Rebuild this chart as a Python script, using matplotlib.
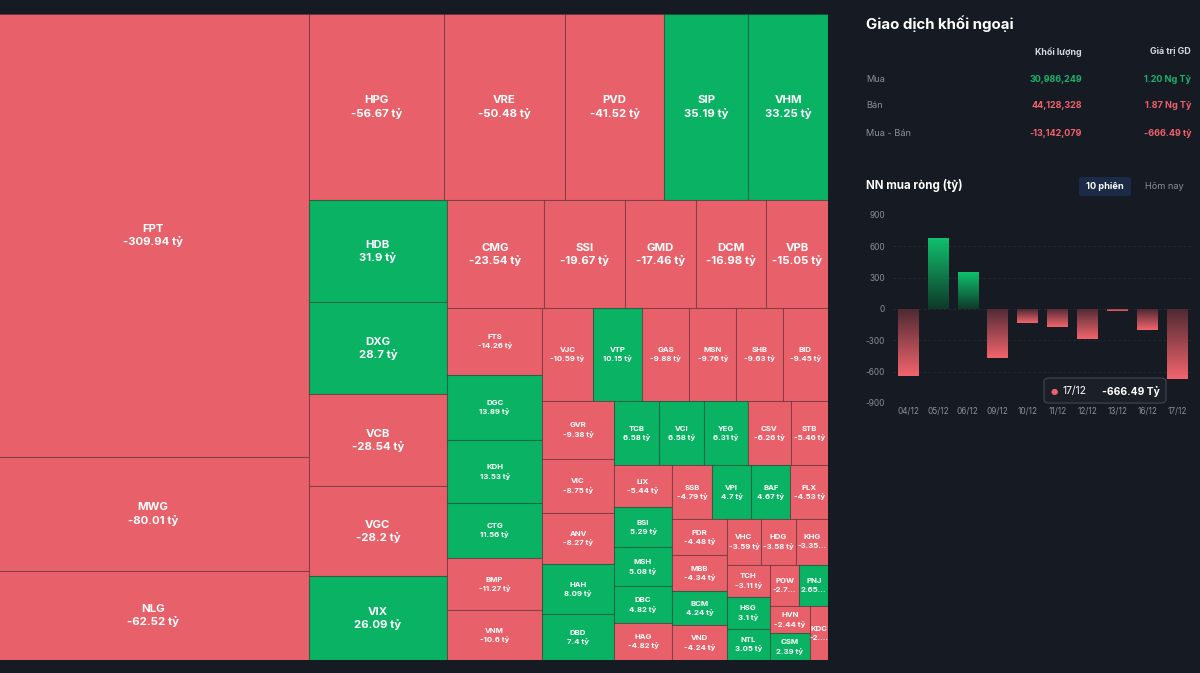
import matplotlib
matplotlib.use("Agg")
import matplotlib.pyplot as plt
from matplotlib.patches import Rectangle, FancyBboxPatch
import numpy as np

# ---------------- data ----------------
tickers = ["FPT", "MWG", "NLG", "HPG", "VRE", "PVD", "SIP", "VHM",
           "HDB", "DXG", "VCB", "VGC", "VIX",
           "CMG", "SSI", "GMD", "DCM", "VPB",
           "FTS", "DGC", "KDH", "CTG", "BMP", "VNM",
           "VJC", "VTP", "GAS", "MSN", "SHB", "BID",
           "GVR", "VIC", "ANV", "HAH", "DBD",
           "TCB", "VCI", "YEG", "CSV", "STB",
           "LIX", "BSI", "MSH", "DBC", "HAG",
           "SSB", "VPI", "BAF", "PLX",
           "PDR", "MBB", "BCM", "VND",
           "VHC", "HDG", "KHG",
           "TCH", "HSG", "NTL",
           "POW", "PNJ", "HVN", "CSM", "KDC"]
net_values = [-309.94, -80.01, -62.52, -56.67, -50.48, -41.52, 35.19, 33.25,
              31.9, 28.7, -28.54, -28.2, 26.09,
              -23.54, -19.67, -17.46, -16.98, -15.05,
              -14.26, 13.89, 13.53, 11.56, -11.27, -10.6,
              -10.59, 10.15, -9.88, -9.76, -9.63, -9.45,
              -9.38, -8.75, -8.27, 8.09, 7.4,
              6.58, 6.58, 6.31, -6.26, -5.46,
              -5.44, 5.29, 5.08, 4.82, -4.82,
              -4.79, 4.7, 4.67, -4.53,
              -4.48, -4.34, 4.24, -4.24,
              -3.59, -3.58, -3.35,
              -3.11, 3.1, 3.05,
              -2.75, 2.65, -2.44, 2.39, -2.2]

sessions = ["04/12", "05/12", "06/12", "09/12", "10/12", "11/12", "12/12", "13/12", "16/12", "17/12"]
session_net = [-640, 680, 350, -470, -130, -175, -290, -20, -200, -666.49]
y_ticks = [900, 600, 300, 0, -300, -600, -900]

table_rows = ["Mua", "Bán", "Mua - Bán"]
table_volume = ["30,986,249", "44,128,328", "-13,142,079"]
table_value = ["1.20 Ng Tỷ", "1.87 Ng Tỷ", "-666.49 tỷ"]

# ---------------- style ----------------
BG = "#161a23"
RED = "#e8616a"
GREEN = "#0ab263"
TXT_RED = "#f0616b"
TXT_GREEN = "#19b46b"
GREY = "#8a8f99"
FONT = ["Inter", "DejaVu Sans"]
plt.rcParams["font.family"] = FONT

W, H = 1200, 673
fig = plt.figure(figsize=(W / 100, H / 100), dpi=100, facecolor=BG)


def fx(x):
    return x / W


def fy(y):
    return 1 - y / H


# ---------------- squarified treemap (d3 algorithm) ----------------
PHI = (1 + 5 ** 0.5) / 2


def squarify(values, x0, y0, x1, y1, ratio=PHI):
    n = len(values)
    rects = [None] * n
    i0 = i1 = 0
    value = float(sum(values))
    while i0 < n:
        dx, dy = x1 - x0, y1 - y0
        sumv = values[i1]
        i1 += 1
        minv = maxv = sumv
        alpha = max(dy / dx, dx / dy) / (value * ratio)
        beta = sumv * sumv * alpha
        minr = max(maxv / beta, beta / minv)
        while i1 < n:
            nv = values[i1]
            sumv += nv
            minv = min(minv, nv)
            maxv = max(maxv, nv)
            beta = sumv * sumv * alpha
            newr = max(maxv / beta, beta / minv)
            if newr > minr:
                sumv -= nv
                break
            minr = newr
            i1 += 1
        if dx < dy:
            ny = y0 + dy * sumv / value
            xx = x0
            for i in range(i0, i1):
                w = (x1 - x0) * values[i] / sumv
                rects[i] = (xx, y0, w, ny - y0)
                xx += w
            y0 = ny
        else:
            nx = x0 + dx * sumv / value
            yy = y0
            for i in range(i0, i1):
                h = (y1 - y0) * values[i] / sumv
                rects[i] = (x0, yy, nx - x0, h)
                yy += h
            x0 = nx
        value -= sumv
        i0 = i1
    return rects


order = sorted(range(len(net_values)), key=lambda i: -abs(net_values[i]))
tm_left, tm_right = -3.0, 828.0
tm_top, tm_h = 14.0, 646.0
rects_sorted = squarify([abs(net_values[i]) for i in order], tm_left, 0, tm_right, tm_h)

ax = fig.add_axes([0, fy(tm_top + tm_h), fx(tm_right), tm_h / H])
ax.set_xlim(0, tm_right)
ax.set_ylim(tm_h, 0)
ax.axis("off")

renderer = fig.canvas.get_renderer()

for k, i in enumerate(order):
    x, y, w, h = rects_sorted[k]
    v = net_values[i]
    col = GREEN if v > 0 else RED
    r = Rectangle((x, y), w, h, facecolor=col, edgecolor=(0.08, 0.08, 0.1, 0.22), linewidth=0.8)
    ax.add_patch(r)
    big = abs(v) >= 15
    fs = 8.2 if big else 5.6
    gap = 6.5 if big else 4.4
    cx, cy = x + w / 2, y + h / 2
    t1 = ax.text(cx, cy - gap, tickers[i], color="white", fontsize=fs, fontweight="bold",
                 ha="center", va="center")
    t1.set_clip_path(r)
    s = f"{v:g} tỷ"
    t2 = ax.text(cx, cy + gap, s, color="white", fontsize=fs, fontweight="bold",
                 ha="center", va="center")
    avail = w - 2
    if t2.get_window_extent(renderer).width > avail:
        base = s
        while len(base) > 3:
            base = base[:-1]
            t2.set_text(base + "...")
            if t2.get_window_extent(renderer).width <= avail:
                break
    t2.set_clip_path(r)

# ---------------- right panel: table ----------------
fig.text(fx(866), fy(24), "Giao dịch khối ngoại", color="white", fontsize=10.8,
         fontweight="bold", ha="left", va="center")
fig.text(fx(1082), fy(52), "Khối lượng", color="#d5d8de", fontsize=6.4,
         fontweight="bold", ha="right", va="center")
fig.text(fx(1191), fy(52), "Giá trị GD", color="#d5d8de", fontsize=6.4,
         fontweight="bold", ha="right", va="center")
row_y = [79, 106, 133]
for j, lab in enumerate(table_rows):
    c = TXT_GREEN if j == 0 else TXT_RED
    fig.text(fx(866), fy(row_y[j]), lab, color=GREY, fontsize=6.6, ha="left", va="center")
    fig.text(fx(1082), fy(row_y[j]), table_volume[j], color=c, fontsize=6.5,
             fontweight="bold", ha="right", va="center")
    fig.text(fx(1191), fy(row_y[j]), table_value[j], color=c, fontsize=6.5,
             fontweight="bold", ha="right", va="center")

# ---------------- right panel: bar chart header ----------------
fig.text(fx(866), fy(186), "NN mua ròng (tỷ)", color="white", fontsize=8.3,
         fontweight="bold", ha="left", va="center")
btn = FancyBboxPatch((fx(1079), fy(196)), fx(52), 19 / H,
                     boxstyle="round,pad=0,rounding_size=0.003",
                     transform=fig.transFigure, facecolor="#1b2a47", edgecolor="none")
fig.patches.append(btn)
fig.text(fx(1105), fy(186.5), "10 phiên", color="white", fontsize=6.6,
         fontweight="bold", ha="center", va="center")
fig.text(fx(1164), fy(186.5), "Hôm nay", color=GREY, fontsize=6.6, ha="center", va="center")

# ---------------- bar chart ----------------
bx0, bx1, by0, by1 = 893, 1192, 215, 403
bax = fig.add_axes([fx(bx0), fy(by1), (bx1 - bx0) / W, (by1 - by0) / H])
bax.set_facecolor(BG)
xpos = np.arange(len(sessions))
bars = bax.bar(xpos, session_net, width=0.68, color="none", edgecolor="none")


def hex2rgb(h):
    h = h.lstrip("#")
    return np.array([int(h[i:i + 2], 16) for i in (0, 2, 4)]) / 255.0


g_bright, g_dark = hex2rgb("#10c16d"), hex2rgb("#0e3a2a")
r_bright, r_dark = hex2rgb("#f2646d"), hex2rgb("#4f2a33")
for b, v in zip(bars, session_net):
    x = b.get_x()
    w = b.get_width()
    t = np.linspace(0, 1, 64)[:, None]
    if v >= 0:
        c0, c1 = g_dark, g_bright
    else:
        c0, c1 = r_dark, r_bright
    grad = (c0[None, :] * (1 - t) + c1[None, :] * t)[:, None, :]
    im = bax.imshow(grad, extent=(x, x + w, 0, v), origin="lower", aspect="auto",
                    interpolation="bilinear", zorder=2)
    im.set_clip_path(b)

bax.set_xlim(-0.5, len(sessions) - 0.5)
bax.set_ylim(-900, 900)
bax.set_yticks(y_ticks)
bax.set_yticklabels([str(t) for t in y_ticks])
bax.set_xticks(xpos)
bax.set_xticklabels(sessions)
bax.tick_params(axis="both", length=0, colors=GREY, labelsize=5.9)
bax.tick_params(axis="y", pad=6)
bax.tick_params(axis="x", pad=3)
for sp in bax.spines.values():
    sp.set_visible(False)
for t in y_ticks[1:-1]:
    bax.axhline(t, color="#262b36", linewidth=0.6, linestyle=(0, (3, 3)), zorder=0)

# tooltip
tip = FancyBboxPatch((fx(1044), fy(403)), fx(122), 25 / H,
                     boxstyle="round,pad=0,rounding_size=0.005",
                     transform=fig.transFigure, facecolor="#1b1f28",
                     edgecolor="#3d424d", linewidth=0.9, zorder=5)
fig.patches.append(tip)
fig.text(fx(1054.5), fy(391), "●", color=TXT_RED, fontsize=6, ha="center", va="center",
         family=["DejaVu Sans"], zorder=6)
fig.text(fx(1063), fy(391), sessions[-1], color="white", fontsize=7.4, ha="left",
         va="center", zorder=6)
fig.text(fx(1160), fy(391), f"{session_net[-1]:.2f} Tỷ", color="white", fontsize=7.4,
         fontweight="bold", ha="right", va="center", zorder=6)

fig.savefig("out.png", dpi=100, facecolor=BG)
